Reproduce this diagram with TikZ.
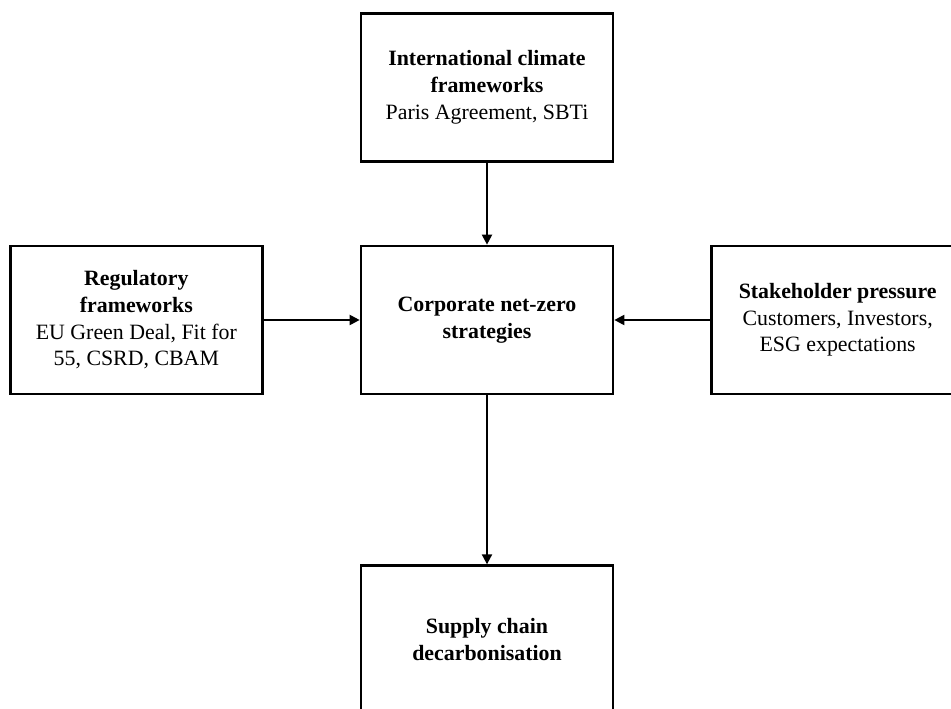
\documentclass[tikz,border=0pt]{standalone}
\usepackage{fontspec}
\setmainfont{Liberation Serif}
\usepackage{tikz}
\usetikzlibrary{arrows.meta,positioning}
\tikzset{
  node distance=61.5pt and 72pt,
  box/.style ={rectangle, draw=black, line width=2pt, fill=white, align=center,
               font=\fontsize{16.4}{20}\selectfont, inner sep=3pt,
               minimum width=189pt, minimum height=111pt},
  fl/.style  ={-{Triangle[length=7.5pt,width=7.5pt]}, line width=1.5pt, draw=black},
}

\begin{document}
\begin{tikzpicture}
  \useasboundingbox (0,0) rectangle (713.25pt,-531.75pt);
  \node[box] (corp) at (365.25pt,-240pt) {\textbf{Corporate net-zero}\\\textbf{strategies}};
  \node[box,above=of corp] (intl) {\textbf{International climate}\\\textbf{frameworks}\\Paris Agreement, SBTi};
  \node[box,left=of corp] (reg) {\textbf{Regulatory}\\\textbf{frameworks}\\EU Green Deal, Fit for\\55, CSRD, CBAM};
  \node[box,right=of corp] (stake) {\textbf{Stakeholder pressure}\\Customers, Investors,\\ESG expectations};
  \node[box,below=126.75pt of corp] (supply) {\textbf{Supply chain}\\\textbf{decarbonisation}};

  \draw[fl] (intl) -- (corp); \draw[fl] (reg) -- (corp);
  \draw[fl] (stake) -- (corp); \draw[fl] (corp) -- (supply);
\end{tikzpicture}
\end{document}
